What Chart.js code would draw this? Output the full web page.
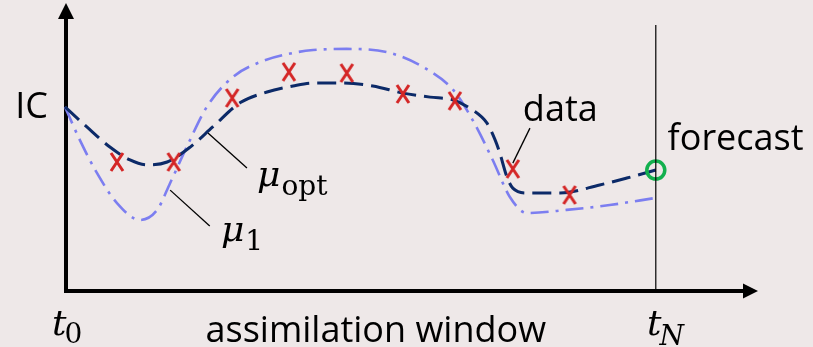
<!DOCTYPE html>
<html><head><meta charset="utf-8">
<script src="https://cdn.jsdelivr.net/npm/chart.js@4.4.1/dist/chart.umd.min.js"></script>
<style>
html,body{margin:0;padding:0;background:#EEE8E8;}
#wrap{width:813px;height:347px;position:relative;}
canvas{display:block;}
</style></head><body>
<div id="wrap"><canvas id="c" width="813" height="347"></canvas></div>
<script>
// ---- data (time in window units: t0 = 0, tN = 10) ----
const optTime  = [0, 0.37, 0.76, 1.10, 1.39, 1.73, 2.12, 2.50, 2.96, 3.42, 3.86, 4.20, 4.65, 5.21, 5.72, 6.18, 6.57, 6.90, 7.14, 7.28, 7.36, 7.48, 7.58, 7.82, 8.38, 9.05, 9.51, 10.0];
const optValue = [6.45, 5.75, 5.05, 4.60, 4.43, 4.53, 5.05, 5.75, 6.59, 6.97, 7.18, 7.28, 7.28, 7.18, 6.93, 6.79, 6.69, 6.34, 5.89, 5.30, 4.84, 4.01, 3.62, 3.45, 3.45, 3.73, 3.97, 4.25];
const firstTime  = [0, 0.25, 0.54, 0.88, 1.27, 1.56, 1.78, 2.06, 2.40, 2.84, 3.30, 3.86, 4.20, 4.77, 5.50, 6.06, 6.57, 6.90, 7.24, 7.53, 7.82, 8.49, 9.22, 10.0];
const firstValue = [6.45, 5.30, 4.15, 3.10, 2.51, 2.86, 3.80, 5.05, 6.45, 7.49, 8.01, 8.33, 8.43, 8.47, 8.33, 7.84, 7.04, 5.99, 4.60, 3.31, 2.75, 2.86, 3.03, 3.28];
const obsTime  = [0.88, 1.84, 2.83, 3.79, 4.77, 5.72, 6.60, 7.58, 8.54];
const obsValue = [4.53, 4.53, 6.76, 7.67, 7.63, 6.90, 6.66, 4.29, 3.38];
const forecastTime  = [10.0];
const forecastValue = [4.25];
const windowEnd = 10;
const windowLineTop = 9.3;
const axisMaxTime = 11.73;
const axisMaxValue = 10;
const textLabels = ['IC', 'data', 'forecast', 'assimilation window'];
const mathLabels = [['t', '0'], ['t', 'N'], ['\u03BC', 'opt'], ['\u03BC', '1']];

const pts = (xs, ys) => xs.map((x, i) => ({x, y: ys[i]}));

// X marker
const xMark = document.createElement('canvas');
xMark.width = 16; xMark.height = 20;
(function(){
  const g = xMark.getContext('2d');
  g.strokeStyle = '#D42626'; g.lineWidth = 3.0; g.lineCap = 'butt';
  g.beginPath(); g.moveTo(2, 1); g.lineTo(14, 19); g.moveTo(14, 1); g.lineTo(2, 19); g.stroke();
})();

const FONT = '"Open Sans", "Liberation Sans", sans-serif';
const MATH = '"DejaVu Serif", serif';

const decor = {
  id: 'decor',
  beforeDraw(chart) {
    const c = chart.ctx;
    c.save(); c.fillStyle = '#EEE8E8'; c.fillRect(0, 0, chart.width, chart.height); c.restore();
  },
  beforeDatasetsDraw(chart) {
    const c = chart.ctx, xs = chart.scales.x, ys = chart.scales.y;
    const x0 = xs.getPixelForValue(0) + 1, y0 = ys.getPixelForValue(0) - 1;
    const top = ys.getPixelForValue(axisMaxValue), right = xs.getPixelForValue(axisMaxTime);
    c.save();
    c.strokeStyle = '#000'; c.fillStyle = '#000'; c.lineWidth = 4;
    c.beginPath(); c.moveTo(x0, y0 + 2); c.lineTo(x0, top + 12); c.stroke();
    c.beginPath(); c.moveTo(x0 - 8, top + 14); c.lineTo(x0 + 8, top + 14); c.lineTo(x0, top - 2); c.closePath(); c.fill();
    c.beginPath(); c.moveTo(x0 - 2, y0); c.lineTo(right - 12, y0); c.stroke();
    c.beginPath(); c.moveTo(right - 15, y0 - 7.5); c.lineTo(right - 15, y0 + 7.5); c.lineTo(right, y0); c.closePath(); c.fill();
    c.restore();
  },
  afterDatasetsDraw(chart, args, opts) {
    const c = chart.ctx, xs = chart.scales.x, ys = chart.scales.y;
    const X = v => xs.getPixelForValue(v), Y = v => ys.getPixelForValue(v);
    c.save();
    c.strokeStyle = '#000'; c.lineWidth = 1.3;
    opts.leaders.forEach(l => {
      c.beginPath(); c.moveTo(X(l[0]), Y(l[1])); c.lineTo(X(l[2]), Y(l[3])); c.stroke();
    });
    c.fillStyle = '#000';
    c.textBaseline = 'alphabetic';
    opts.texts.forEach(t => {
      c.font = '36px ' + FONT;
      c.textAlign = t.align;
      c.fillText(textLabels[t.i], X(t.x), Y(t.y));
    });
    c.textAlign = 'left';
    opts.math.forEach(m => {
      const [main, sub] = mathLabels[m.i];
      const px = X(m.x), py = Y(m.y);
      c.font = 'italic 36px ' + MATH;
      c.fillText(main, px, py);
      const w = c.measureText(main).width;
      c.font = (m.subItalic ? 'italic ' : '') + '28px ' + MATH;
      c.fillText(sub, px + w + m.gap, py + m.drop);
    });
    c.restore();
  }
};

new Chart(document.getElementById('c'), {
  type: 'line',
  data: {
    datasets: [
      { data: [{x: windowEnd, y: 0}, {x: windowEnd, y: windowLineTop}], borderColor: '#000', borderWidth: 1.2, pointRadius: 0, order: 0, clip: false },
      { data: pts(forecastTime, forecastValue), showLine: false, pointStyle: 'circle', pointRadius: 9, pointBorderWidth: 3.5, pointBorderColor: '#12B04E', pointBackgroundColor: 'rgba(0,0,0,0)', order: 1, clip: false },
      { data: pts(obsTime, obsValue), showLine: false, pointStyle: xMark, pointRadius: 8, order: 1, clip: false },
      { data: pts(optTime, optValue), borderColor: '#0C2A68', borderWidth: 3, borderDash: [19, 8], cubicInterpolationMode: 'monotone', pointRadius: 0, order: 2, clip: false },
      { data: pts(firstTime, firstValue), borderColor: '#7C7EF0', borderWidth: 2.6, borderDash: [18, 7, 3, 7], cubicInterpolationMode: 'monotone', pointRadius: 0, order: 3, clip: false }
    ]
  },
  options: {
    responsive: false, animation: false, events: [],
    layout: { autoPadding: false, padding: { left: 65, right: 55, top: 5, bottom: 55 } },
    scales: {
      x: { type: 'linear', min: 0, max: axisMaxTime, display: false },
      y: { type: 'linear', min: 0, max: axisMaxValue, display: false }
    },
    plugins: {
      legend: { display: false }, tooltip: { enabled: false },
      decor: {
        leaders: [[2.42, 5.54, 3.08, 4.32], [1.78, 3.55, 2.45, 2.30], [7.87, 5.71, 7.58, 4.49]],
        texts: [
          { i: 0, x: -0.29, y: 6.06, align: 'right' },
          { i: 1, x: 7.75, y: 5.96, align: 'left' },
          { i: 2, x: 10.20, y: 4.95, align: 'left' },
          { i: 3, x: 5.26, y: -1.74, align: 'center' }
        ],
        math: [
          { i: 0, x: -0.22, y: -1.50, gap: -2, drop: 8, subItalic: false },
          { i: 1, x: 9.85, y: -1.50, gap: -2, drop: 10, subItalic: true },
          { i: 2, x: 3.25, y: 3.69, gap: 1, drop: 9, subItalic: false },
          { i: 3, x: 2.64, y: 1.78, gap: 1, drop: 9, subItalic: false }
        ]
      }
    }
  },
  plugins: [decor]
});
</script>
</body></html>
